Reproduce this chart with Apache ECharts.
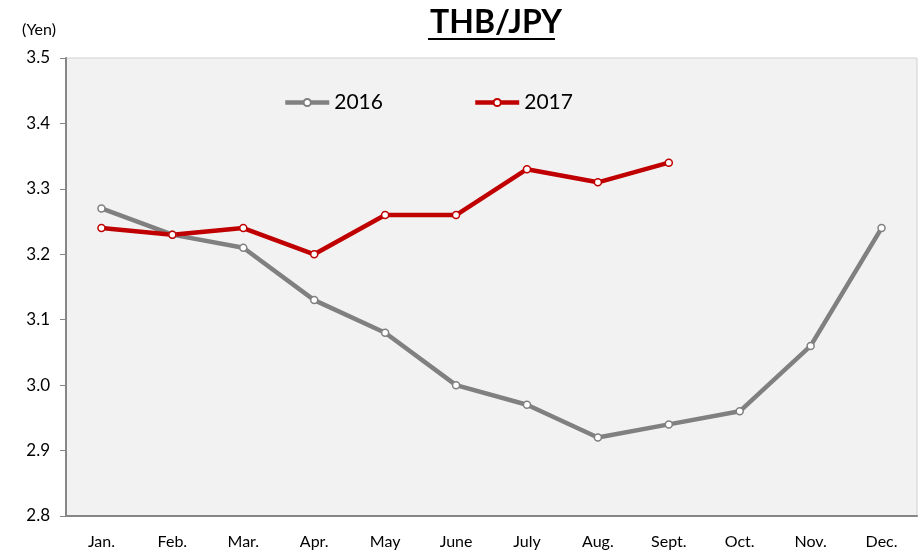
<!DOCTYPE html>
<html>
<head>
<meta charset="utf-8">
<script src="https://cdn.jsdelivr.net/npm/echarts@6/dist/echarts.min.js"></script>
<style>
  html, body { margin: 0; padding: 0; background: #fff; }
  #main { width: 921px; height: 554px; }
</style>
</head>
<body>
<div id="main"></div>
<script>
var months = ['Jan.', 'Feb.', 'Mar.', 'Apr.', 'May', 'June', 'July', 'Aug.', 'Sept.', 'Oct.', 'Nov.', 'Dec.'];
var y2016 = [3.27, 3.23, 3.21, 3.13, 3.08, 3.00, 2.97, 2.92, 2.94, 2.96, 3.06, 3.24];
var y2017 = [3.24, 3.23, 3.24, 3.20, 3.26, 3.26, 3.33, 3.31, 3.34];
var yTicks = [2.8, 2.9, 3.0, 3.1, 3.2, 3.3, 3.4, 3.5];

var font = 'Lato, "Open Sans", sans-serif';

var myChart = echarts.init(document.getElementById('main'));

var option = {
	backgroundColor: '#fff',
	animation: false,
	title: {
		text: 'THB/JPY',
		left: 491,
		textAlign: 'center',
		top: 2,
		textStyle: { fontFamily: font, fontSize: 32, fontWeight: 'bold', color: '#000' }
	},
	graphic: [
		// underline of the title
		{ type: 'rect', shape: { x: 428, y: 38, width: 127, height: 2 }, style: { fill: '#000' } },
		{ type: 'text', left: 22, top: 22, style: { text: '(Yen)', font: '16px ' + font, fill: '#000' } }
	],
	legend: {
		left: 278,
		top: 87,
		itemWidth: 44,
		itemHeight: 9,
		itemGap: 90,
		lineStyle: { width: 4.5 },
		textStyle: { fontFamily: font, fontSize: 21, color: '#000' },
		data: ['2016', '2017']
	},
	grid: {
		left: 66, right: 4, top: 58, bottom: 38,
		show: true,
		backgroundColor: '#f2f2f2',
		borderColor: '#d0d0d0',
		borderWidth: 1
	},
	xAxis: {
		type: 'category',
		data: months,
		boundaryGap: true,
		axisLine: { lineStyle: { color: '#868686', width: 2 } },
		axisTick: { inside: true, length: 6, lineStyle: { color: '#868686' } },
		axisLabel: { fontFamily: font, fontSize: 16, color: '#000', margin: 18 },
		splitLine: { show: false }
	},
	yAxis: {
		type: 'value',
		min: yTicks[0],
		max: yTicks[yTicks.length - 1],
		interval: 0.1,
		axisLine: { show: true, lineStyle: { color: '#868686', width: 2 } },
		axisTick: { show: true, length: 6, lineStyle: { color: '#868686' } },
		axisLabel: {
			fontFamily: font, fontSize: 17, color: '#000', margin: 16,
			formatter: function (v) { return v.toFixed(1); }
		},
		splitLine: { show: false }
	},
	series: [{
		name: '2016',
		type: 'line',
		data: y2016,
		symbol: 'circle',
		symbolSize: 7,
		lineStyle: { color: '#808080', width: 4.5 },
		itemStyle: { color: '#fff', borderColor: '#808080', borderWidth: 1.5 }
	}, {
		name: '2017',
		type: 'line',
		data: y2017,
		symbol: 'circle',
		symbolSize: 7,
		lineStyle: { color: '#c00000', width: 4.5 },
		itemStyle: { color: '#fff', borderColor: '#c00000', borderWidth: 1.5 }
	}]
};

myChart.setOption(option);
</script>
</body>
</html>
